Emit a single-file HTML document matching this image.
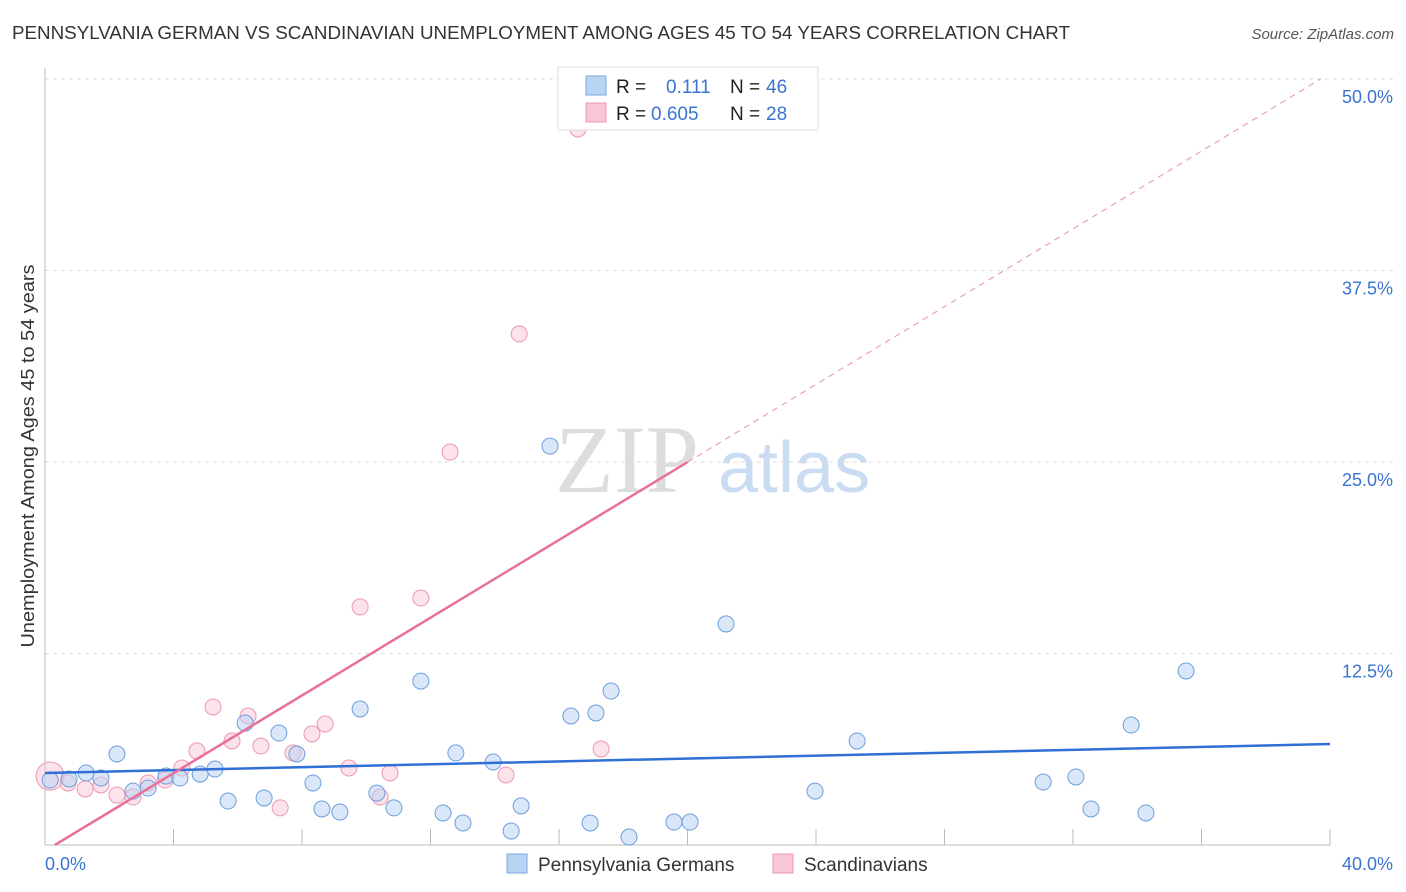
<!DOCTYPE html>
<html><head><meta charset="utf-8"><style>
body{margin:0;background:#fff;font-family:"Liberation Sans",sans-serif}
svg{display:block}
</style></head><body>
<svg id="chart" width="1406" height="892" xmlns="http://www.w3.org/2000/svg">
<text x="12" y="39" font-size="18" fill="#333" textLength="1058" lengthAdjust="spacingAndGlyphs">PENNSYLVANIA GERMAN VS SCANDINAVIAN UNEMPLOYMENT AMONG AGES 45 TO 54 YEARS CORRELATION CHART</text>
<text x="1394" y="39" font-size="15" fill="#555" text-anchor="end" font-style="italic">Source: ZipAtlas.com</text>
<g>
<text x="555" y="492" font-size="96" fill="#ddd" font-family="Liberation Serif,serif">ZIP</text>
<text x="718" y="492" font-size="72" fill="#c9dcf2">atlas</text>
</g>
<g id="grid"></g><g id="axes"></g><g id="marks"></g>
<text transform="translate(34,456) rotate(-90)" font-size="18" fill="#333" text-anchor="middle" textLength="383" lengthAdjust="spacingAndGlyphs">Unemployment Among Ages 45 to 54 years</text>
<g>
<rect x="558" y="67" width="260" height="63" fill="#fff" stroke="#ddd"/>
<rect x="586" y="76" width="20" height="19" fill="#b9d3f3" stroke="#7aa7e0"/>
<rect x="586" y="103" width="20" height="19" fill="#f9c6d5" stroke="#ec98b2"/>
<text x="616" y="93" font-size="19" fill="#222">R = </text><text x="666" y="93" font-size="19" fill="#3a74d0">0.111</text>
<text x="730" y="93" font-size="19" fill="#222">N = </text><text x="766" y="93" font-size="19" fill="#3a74d0">46</text>
<text x="616" y="120" font-size="19" fill="#222">R = </text><text x="651" y="120" font-size="19" fill="#3a74d0">0.605</text>
<text x="730" y="120" font-size="19" fill="#222">N = </text><text x="766" y="120" font-size="19" fill="#3a74d0">28</text>
</g>
<g>
<rect x="507" y="854" width="20" height="19" fill="#b9d3f3" stroke="#7aa7e0"/>
<text x="538" y="871" font-size="19" fill="#333">Pennsylvania Germans</text>
<rect x="773" y="854" width="20" height="19" fill="#f9c6d5" stroke="#ec98b2"/>
<text x="804" y="871" font-size="19" fill="#333">Scandinavians</text>
</g>
</svg>
<script>
const xTicks=[0,40];
const yTicks=[12.5,25,37.5,50];
const blueX=[0.16,0.75,1.28,1.74,2.24,2.74,3.21,3.77,4.20,4.83,5.29,5.70,6.23,6.82,7.28,7.84,8.34,8.62,9.18,9.81,10.33,10.86,11.70,12.39,12.79,13.01,13.95,14.51,14.82,15.72,16.37,16.97,17.15,17.62,18.18,19.58,20.08,21.20,23.97,25.28,31.07,32.09,32.56,33.81,34.27,35.52];
const blueY=[4.24,4.31,4.70,4.37,5.94,3.52,3.72,4.50,4.37,4.63,4.96,2.87,7.96,3.07,7.31,5.94,4.05,2.35,2.15,8.88,3.39,2.42,10.70,2.09,6.01,1.44,5.42,0.91,2.55,26.04,8.42,1.44,8.62,10.05,0.52,1.50,1.50,14.43,3.52,6.79,4.11,4.44,2.35,7.83,2.09,11.36];
const pinkX=[0.16,0.72,1.25,1.74,2.24,2.74,3.21,3.74,4.26,4.73,5.23,5.82,6.32,6.72,7.32,7.72,8.31,8.72,9.46,9.81,10.43,10.74,11.70,12.61,14.35,14.76,16.59,17.31];
const pinkY=[4.50,4.05,3.66,3.92,3.26,3.13,4.05,4.24,5.03,6.14,9.01,6.79,8.42,6.46,2.42,6.01,7.25,7.90,5.03,15.54,3.13,4.70,16.12,25.65,4.57,33.36,46.74,6.27];
const blueTrend=[4.70,6.59];
const pinkTrend=[-0.39,1.269];
const NS="http://www.w3.org/2000/svg";
const X=v=>45+v/40*1285, Y=v=>845-v/50*766;
function mk(tag,attrs,parent){const e=document.createElementNS(NS,tag);for(const k in attrs)e.setAttribute(k,attrs[k]);document.getElementById(parent).appendChild(e);return e;}
yTicks.forEach(t=>{
 const l=mk('line',{x1:45,x2:1395,y1:Y(t),y2:Y(t),stroke:'#ddd','stroke-dasharray':'4,4'},'grid');
 
 
 const tx=mk('text',{x:1393,y:Y(t)+24,'font-size':18,fill:'#3a74d0','text-anchor':'end'},'axes');tx.textContent=t.toFixed(1)+'%';
 
 
});
const ax=mk('line',{x1:45,x2:1330,y1:845,y2:845,stroke:'#bbb'},'axes');


const ay=mk('line',{x1:45,x2:45,y1:68,y2:845,stroke:'#bbb'},'axes');


for(let i=0;i<=10;i++){const t=mk('line',{x1:X(i*4),x2:X(i*4),y1:829,y2:845,stroke:'#bbb'},'axes');
 
 }
xTicks.forEach((t,i)=>{const tx=mk('text',{x:i?1393:45,y:870,'font-size':18,fill:'#3a74d0','text-anchor':i?'end':'start'},'axes');tx.textContent=t.toFixed(1)+'%';
 
 });
pinkX.forEach((x,i)=>{const c=mk('circle',{cx:X(x),cy:Y(pinkY[i]),r:i==0?14:8,fill:'rgba(249,198,213,0.5)',stroke:'#ec98b2','stroke-width':1},'marks');
 
 });
blueX.forEach((x,i)=>{const c=mk('circle',{cx:X(x),cy:Y(blueY[i]),r:8,fill:'rgba(185,211,243,0.55)',stroke:'#6d9fdd','stroke-width':1},'marks');
 
 });
const bl=mk('line',{x1:X(0),y1:Y(blueTrend[0]),x2:X(40),y2:Y(blueTrend[1]),stroke:'#2f6fd6','stroke-width':2.5},'marks');


const px0=-pinkTrend[0]/pinkTrend[1];
const ps=mk('line',{x1:X(px0),y1:Y(0),x2:X(20),y2:Y(pinkTrend[0]+pinkTrend[1]*20),stroke:'#e8709a','stroke-width':2.5},'marks');


const xe=(50-pinkTrend[0])/pinkTrend[1];
const pd=mk('line',{x1:X(20),y1:Y(pinkTrend[0]+pinkTrend[1]*20),x2:X(xe),y2:Y(50),stroke:'#eaa0b8','stroke-width':1.2,'stroke-dasharray':'6,5'},'marks');


</script>
</body></html>
